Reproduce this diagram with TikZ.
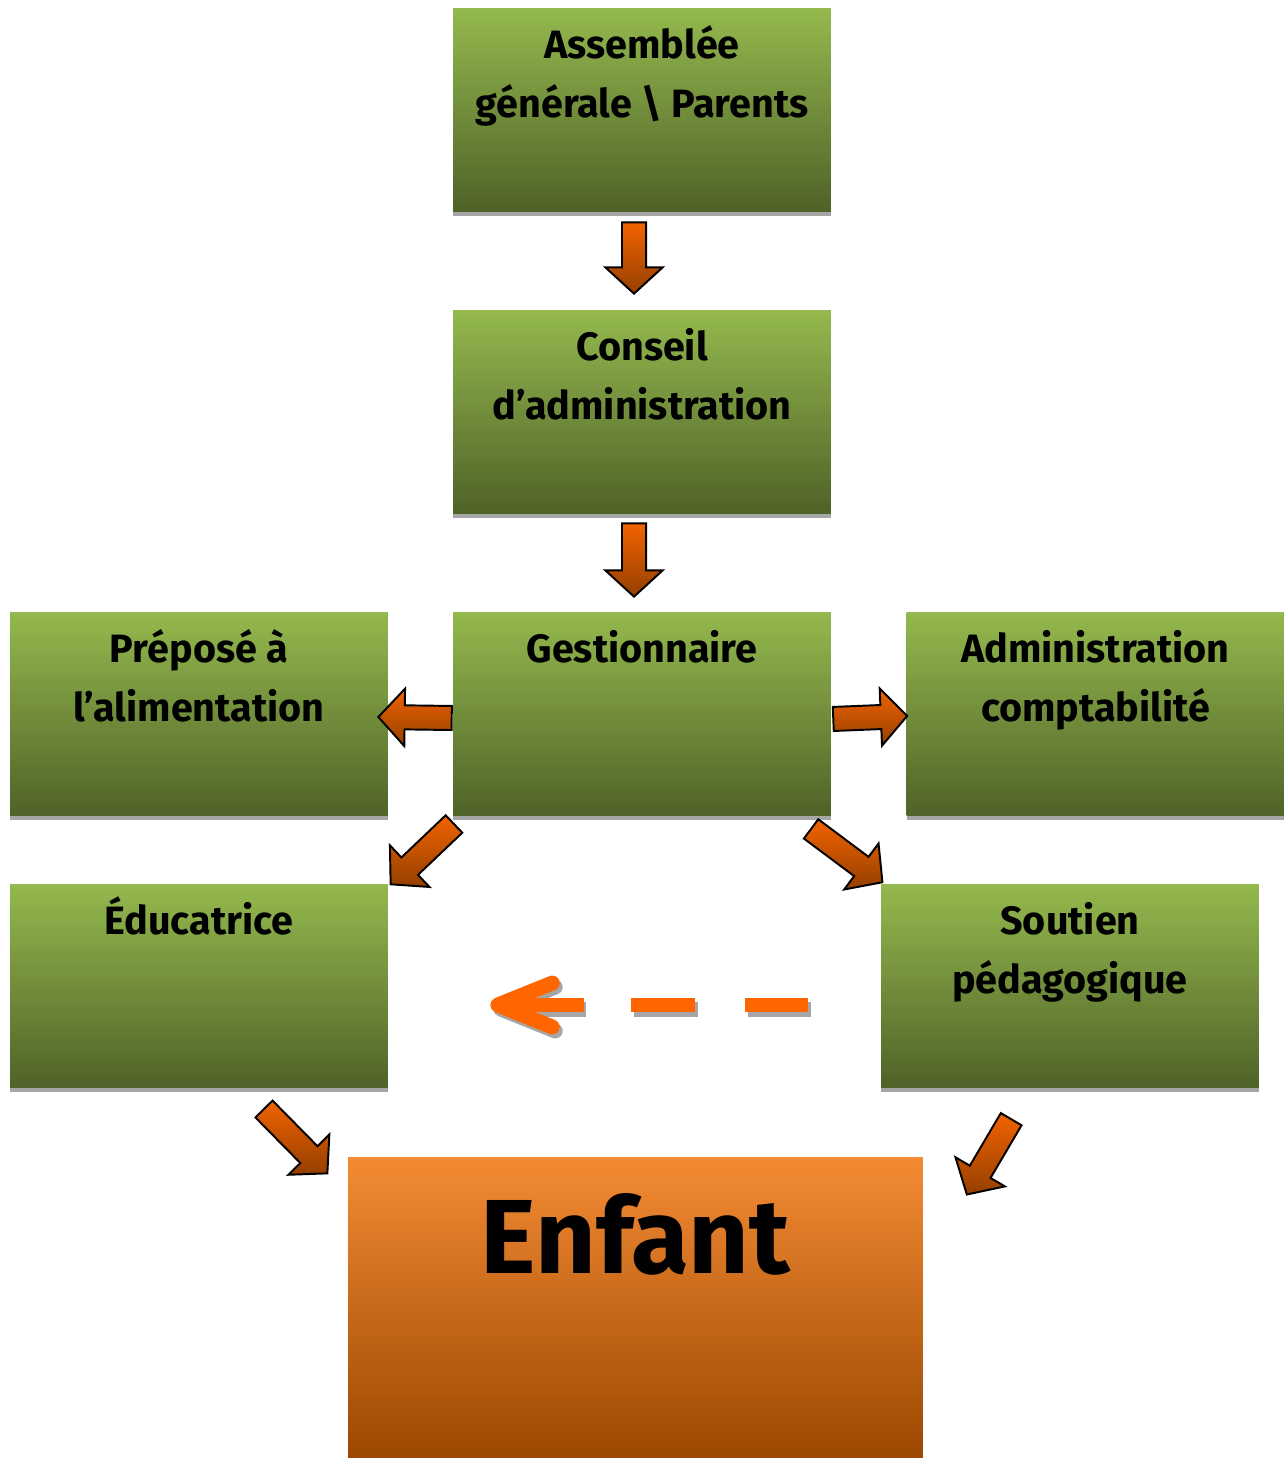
\documentclass[tikz,border=0pt]{standalone}
\usepackage{fontspec}
\setmainfont{Fira Sans}
\usetikzlibrary{calc,shapes.arrows,shadows,arrows.meta}

\definecolor{greentop}{HTML}{94B94E}
\definecolor{greenbot}{HTML}{4F6228}
\definecolor{orangetop}{HTML}{F48B34}
\definecolor{orangemid}{HTML}{DA7A2E}
\definecolor{orangebot}{HTML}{9B4800}
\definecolor{arrowlight}{HTML}{F26300}
\definecolor{arrowdark}{HTML}{943F00}
\definecolor{dashorange}{HTML}{FF6600}

\newcommand\boxstrut{\rule{0pt}{24pt}}

\tikzset{
  box/.style={rectangle, inner sep=0pt, minimum width=7.56cm, minimum height=4.08cm,
    top color=greentop, bottom color=greenbot,
    drop shadow={shadow xshift=0pt, shadow yshift=-2.4pt, fill=black!35, opacity=1}},
  boxtext/.style={anchor=north, yshift=-4.45pt, inner sep=0pt, align=center,
    font=\bfseries\fontsize{22.5}{33.6}\selectfont},
  enbox/.style={rectangle, inner sep=0pt, minimum width=11.5cm, minimum height=6.02cm,
    top color=orangetop, middle color=orangemid, bottom color=orangebot},
  entext/.style={anchor=north, yshift=-16pt, inner sep=0pt,
    font=\bfseries\fontsize{60}{64}\selectfont, execute at begin node={\rule{0pt}{50pt}}},
  barrow/.style={single arrow, draw=black, line width=1.1pt, inner sep=0pt, inner ysep=6.3pt,
    single arrow head extend=9.5pt, single arrow tip angle=95,
    top color=arrowlight, bottom color=arrowdark},
  dashline/.style={line width=8.5pt, dash pattern=on 35.9pt off 28.5pt on 35.9pt off 27.3pt on 200pt,
    -{Straight Barb[round,length=31pt,width=25pt]}},
}

\newcommand\barrow[2]{%
  \path let \p1=#1, \p2=#2, \n1={atan2(\y2-\y1,\x2-\x1)}, \n2={veclen(\x2-\x1,\y2-\y1)} in
    node[barrow, rotate=\n1, minimum height=\n2, anchor=tail] at (\p1) {};}

\begin{document}
\begin{tikzpicture}[x=0.02cm, y=-0.02cm]
\useasboundingbox (0,0) rectangle (1284,1458);

\node[box, label={[boxtext]north:{\boxstrut Assemblée\\générale \textbackslash{} Parents}}] (ag) at (642,110) {};
\node[box, label={[boxtext]north:{\boxstrut Conseil\\d’administration}}] (ca) at (642,412) {};
\node[box, label={[boxtext]north:{\boxstrut Gestionnaire}}] (ge) at (642,714) {};
\node[box, label={[boxtext]north:{\boxstrut Préposé à\\l’alimentation}}] (pr) at (199,714) {};
\node[box, label={[boxtext]north:{\boxstrut Administration\\comptabilité}}] (ad) at (1095.5,714) {};
\node[box, label={[boxtext]north:{\boxstrut Éducatrice}}] (ed) at (199,986) {};
\node[box, label={[boxtext]north:{\boxstrut Soutien\\pédagogique}}] (sp) at (1070,986) {};
\node[enbox, label={[entext]north:{Enfant}}] (en) at (635.5,1307.5) {};

\barrow{($(ag.south)+(-8,9)$)}{($(ca.north)+(-8,-17)$)}
\barrow{($(ca.south)+(-8,8)$)}{($(ge.north)+(-8,-16)$)}
\barrow{($(ge.west)+(0,4)$)}{($(pr.east)+(-9,3)$)}
\barrow{($(ge.east)+(1,5)$)}{($(ad.west)+(0,2)$)}
\barrow{($(ge.south west)+(2,7)$)}{($(ed.north east)+(3,0)$)}
\barrow{($(ge.south east)+(-21,12)$)}{($(sp.north west)+(1,-2)$)}
\barrow{($(ed.south east)+(-125,20)$)}{($(en.north west)+(-21,16)$)}
\barrow{($(sp.south west)+(131,30)$)}{($(en.north east)+(44,37)$)}

\draw[dashline, draw=black!35, transform canvas={shift={(1.7pt,-2.3pt)}}] ($(sp.west)+(-73,19)$) -- ($(ed.east)+(102,19)$);
\draw[dashline, draw=dashorange] ($(sp.west)+(-73,19)$) -- ($(ed.east)+(102,19)$);
\end{tikzpicture}
\end{document}
